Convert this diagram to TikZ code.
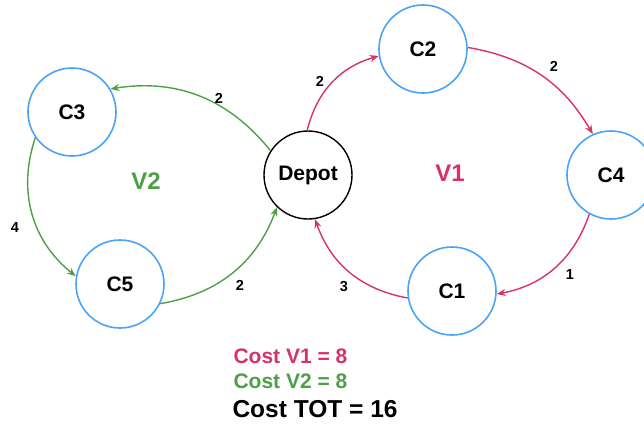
\documentclass[tikz,border=0pt]{standalone}
\usepackage{fontspec}
\setmainfont{Liberation Sans}
\usetikzlibrary{arrows.meta}
\definecolor{vone}{RGB}{214,50,110}
\definecolor{vtwo}{RGB}{78,160,72}
\definecolor{cblue}{RGB}{75,163,245}
\begin{document}
\begin{tikzpicture}[x=1pt,y=-1pt,
  cust/.style={circle,draw=cblue,line width=1.6pt,minimum size=88pt,inner sep=0pt,font=\fontsize{21}{23}\selectfont\bfseries},
  depotnode/.style={circle,draw=black,line width=1.4pt,minimum size=88pt,inner sep=0pt,font=\fontsize{21}{23}\selectfont\bfseries},
  edgeone/.style={draw=vone,line width=1.4pt,-{Stealth[length=9pt,width=7pt]}},
  edgetwo/.style={draw=vtwo,line width=1.4pt,-{Stealth[length=9pt,width=7pt]}},
  wlabel/.style={font=\fontsize{14.5}{16}\selectfont\bfseries},
  vlabel/.style={font=\fontsize{24}{26}\selectfont\bfseries},
  costlabel/.style={font=\fontsize{21}{23}\selectfont\bfseries,anchor=west}]
\useasboundingbox (0,0) rectangle (644,425);
\node[cust] (c3) at (72,112) {C3};
\node[cust] (c5) at (120,284) {C5};
\node[depotnode] (depot) at (308,175) {Depot};
\node[cust] (c2) at (423,49) {C2};
\node[cust] (c4) at (611,175) {C4};
\node[cust] (c1) at (452,291) {C1};
% V2 route
\draw[edgetwo] (depot.147) to[bend right=30] (c3.31);
\draw[edgetwo] (c3.215) to[bend right=35] (c5.170);
\draw[edgetwo] (c5.-26) to[bend right=30] (depot.226);
% V1 route
\draw[edgeone] (depot.91) to[bend left=30] (c2.189);
\draw[edgeone] (c2.2) to[bend left=25] (c4.114);
\draw[edgeone] (c4.241) to[bend left=30] (c1.-4);
\draw[edgeone] (c1.189) to[bend left=30] (depot.-81);
% weights
\node[wlabel] (w1) at (219,98) {2};
\node[wlabel] (w2) at (15,228) {4};
\node[wlabel] (w3) at (240,285) {2};
\node[wlabel] (w4) at (320,81) {2};
\node[wlabel] (w5) at (554,66) {2};
\node[wlabel] (w6) at (570,275) {1};
\node[wlabel] (w7) at (344,287) {3};
% route names
\node[vlabel,text=vtwo] (v2) at (146,181) {V2};
\node[vlabel,text=vone] (v1) at (450,173) {V1};
% costs
\node[costlabel,text=vone] (cost1) at (230,356) {Cost V1 = 8};
\node[costlabel,text=vtwo] (cost2) at (230,381) {Cost V2 = 8};
\node[costlabel,font=\fontsize{24.5}{26}\selectfont\bfseries] (cost3) at (229,409) {Cost TOT = 16};
\end{tikzpicture}
\end{document}
